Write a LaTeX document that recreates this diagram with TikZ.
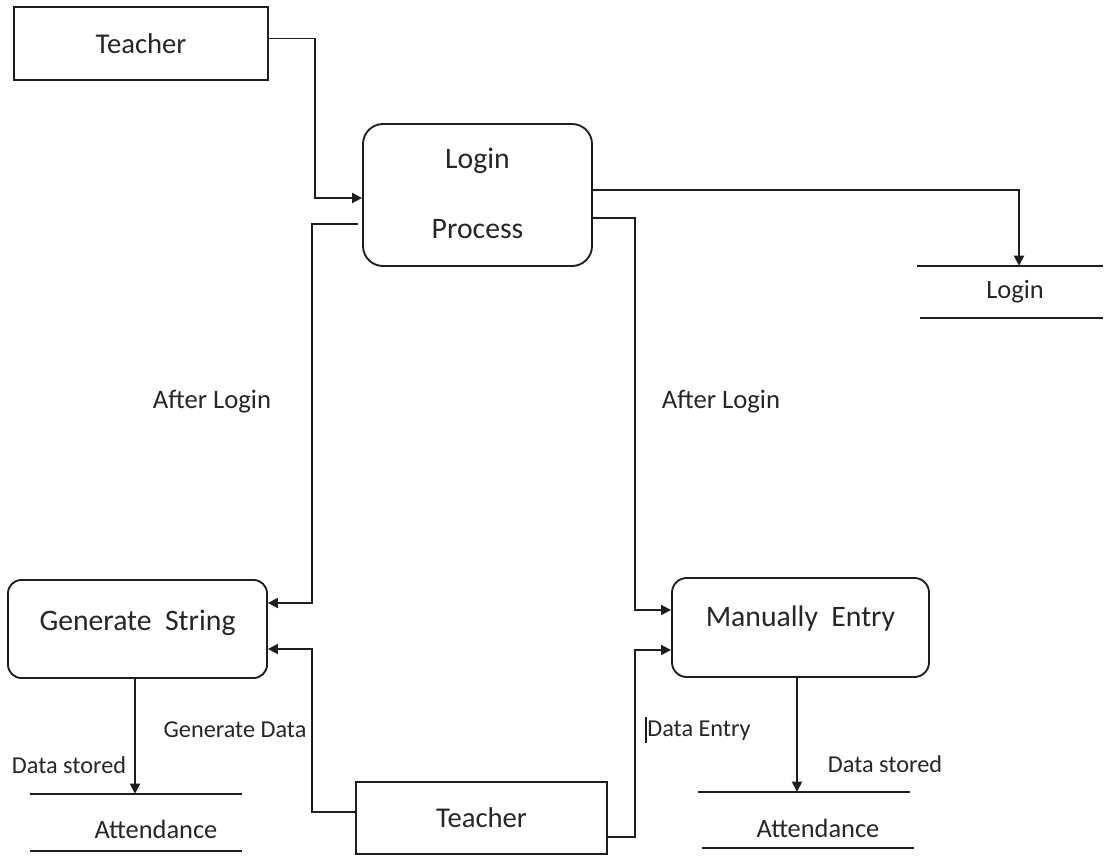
\documentclass[tikz,border=0pt]{standalone}
\usepackage{fontspec}
\setmainfont{Carlito}
\usetikzlibrary{arrows.meta,calc}

\definecolor{ink}{HTML}{1E1E1E}
\definecolor{txt}{HTML}{262626}

\tikzset{
  ln/.style={draw=ink, line width=1.4pt},
  flow/.style={ln, -{Triangle[length=7.5pt,width=7.5pt]}},
  entity/.style={ln, rectangle, inner sep=0pt, text=txt,
    font=\fontsize{21.5pt}{25pt}\selectfont},
  procbox/.style={ln, rectangle, inner sep=0pt, rounded corners=#1},
  bigtext/.style={text=txt, inner sep=0pt, font=\fontsize{22.3pt}{26pt}\selectfont},
  store/.style={rectangle, inner sep=0pt},
  storetext/.style={text=txt, inner sep=0pt, font=\fontsize{19.8pt}{24pt}\selectfont},
  flowlabel/.style={text=txt, inner sep=0pt, font=\fontsize{20pt}{24pt}\selectfont},
  smalllabel/.style={text=txt, inner sep=0pt, font=\fontsize{18.2pt}{22pt}\selectfont}
}

\begin{document}
\begin{tikzpicture}[x=0.75pt, y=-0.75pt]
\useasboundingbox[fill=white] (0,0) rectangle (1105,856);

% external entities
\node[entity, minimum width=190.5pt, minimum height=54.75pt] (t1) at (141,43.5) {Teacher};
\node[entity, minimum width=188.25pt, minimum height=54pt] (t2) at (481.5,818) {Teacher};

% processes
\node[procbox=15pt, minimum width=171.75pt, minimum height=106.5pt,
      label={[bigtext, yshift=25.5pt]center:Login},
      label={[bigtext, yshift=-25.5pt]center:Process}] (login) at (477.5,195) {};
\node[procbox=10pt, minimum width=194.25pt, minimum height=73.5pt,
      label={[bigtext, yshift=4.5pt]center:Generate\ \ String}] (gs) at (137.5,629) {};
\node[procbox=11pt, minimum width=192.75pt, minimum height=74.25pt,
      label={[bigtext, yshift=7pt]center:Manually\ \ Entry}] (me) at (800.5,627.5) {};

% data stores
\node[store, minimum width=138.75pt, minimum height=39pt,
      label={[storetext, xshift=3.75pt]center:Login}] (lstore) at (1010,292) {};
\node[store, minimum width=159pt, minimum height=42.75pt,
      label={[storetext, xshift=15pt, yshift=-5.5pt]center:Attendance}] (att1) at (136,822.5) {};
\node[store, minimum width=159pt, minimum height=42pt,
      label={[storetext, xshift=10.5pt, yshift=-6pt]center:Attendance}] (att2) at (804,820) {};

\draw[ln] (lstore.north west) -- (lstore.north east);
\draw[ln] ($(lstore.south west)+(3,0)$) -- (lstore.south east);
\draw[ln] (att1.north west) -- (att1.north east);
\draw[ln] (att1.south west) -- (att1.south east);
\draw[ln] (att2.north west) -- (att2.north east);
\draw[ln] ($(att2.south west)+(4,0)$) -- ($(att2.south east)+(4,0)$);

% data flows
\draw[flow] ($(t1.east)+(0,-5)$) -- ++(46,0) |- ($(login.west)+(0,3)$);
\draw[flow] ($(login.west)+(-4,29)$) -- ++(-46,0) |- ($(gs.east)+(0,-26)$);
\draw[flow] ($(login.east)+(0,-5)$) -| ($(lstore.north)+(9,0)$);
\draw[flow] ($(login.east)+(0,23)$) -- ++(42,0) |- ($(me.west)+(0,-17.5)$);
\draw[flow] ($(t2.east)+(0,19)$) -- ++(27,0) |- ($(me.west)+(0,22.5)$);
\draw[flow] ($(t2.west)+(0,-6)$) -- ++(-43,0) |- ($(gs.east)+(0,20)$);
\draw[flow] ($(gs.south)+(-2.5,0)$) -- ($(gs.south |- att1.north)+(-2.5,0)$);
\draw[flow] ($(me.south)+(-3.5,0)$) -- ($(me.south |- att2.north)+(-3.5,0)$);

% flow labels
\node[flowlabel] (al1) at (212,402) {After Login};
\node[flowlabel] (al2) at (721,402) {After Login};
\node[smalllabel] (gd) at (235,730) {Generate Data};
\node[smalllabel] (ds1) at (69,765) {Data stored};
\node[smalllabel] (ds2) at (885,764) {Data stored};
\node[smalllabel] (de) at (699,731) {Data Entry};
\draw[ink, line width=0.8pt] (646,717) -- (646,743);
\end{tikzpicture}
\end{document}
